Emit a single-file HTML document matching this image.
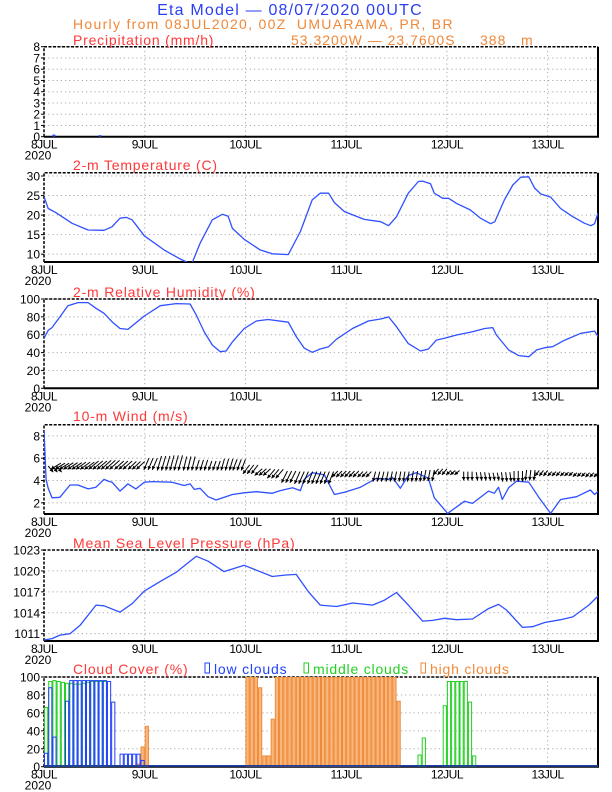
<!DOCTYPE html>
<html><head><meta charset="utf-8">
<style>
html,body{margin:0;padding:0;background:#fff;}
svg{display:block;font-family:"Liberation Sans",sans-serif;}
</style></head>
<body>
<svg id="chart" width="612" height="792" viewBox="0 0 612 792" xmlns="http://www.w3.org/2000/svg">
<text x="290" y="15" text-anchor="middle" font-size="16" fill="#2a3ff0" letter-spacing="1.2">Eta Model — 08/07/2020 00UTC</text>
<text x="73" y="29" font-size="14" fill="#f0883a" letter-spacing="1.3" xml:space="preserve" style="white-space:pre">Hourly from 08JUL2020, 00Z  UMUARAMA, PR, BR</text>
<text x="291" y="45" font-size="14" fill="#f0883a" letter-spacing="1" xml:space="preserve" style="white-space:pre">53.3200W — 23.7600S     388   m</text>
</svg>
<script>
// ---- data (hours since 08JUL2020 00Z) ----
const dayLabels = ["8JUL","9JUL","10JUL","11JUL","12JUL","13JUL"];
const tempHours = [0,1,2.9,6.7,10.5,14.3,16.2,18.1,19.6,21,23.9,28.6,32.4,34.4,35.3,37.2,40.1,42.5,43.9,44.9,47.7,51.5,54.4,58.2,61.1,63.9,65.8,67.8,69.2,71.6,76.3,80.2,82.1,84,86.8,89.2,90.2,92.1,93,95,96.4,98.3,101.6,104,106.4,107.4,109.7,111.7,113.6,115.5,116.9,118.4,120.7,123.1,126,128.8,130.3,131.2,132];
const tempVals = [24.7,21.7,20.6,17.9,16.2,16.1,17,19.2,19.4,18.8,14.7,11.1,8.8,7.8,7.8,12.8,18.8,20.2,19.7,16.6,13.8,11.1,10.1,9.9,15.8,23.9,25.6,25.6,23.2,20.9,18.9,18.3,17.3,19.6,25.6,28.6,28.7,28,25.6,24.3,24.3,23,21.3,19.2,17.8,18.3,23.9,27.7,29.7,29.8,26.9,25.4,24.6,21.7,19.6,17.9,17.3,17.8,20.5];
const rhHours = [0,1,1.9,3.8,5.7,8.1,10.5,12.4,14.3,16.2,18.1,20,23.9,27.7,31.5,34.8,36.3,38.2,40.1,42,43.4,44.9,47.7,50.6,53.4,58.2,60.1,62,63.9,65.8,67.8,69.7,73.5,77.3,80.2,82.1,84,86.8,89.7,91.6,93.5,95.4,98.3,102.1,105,106.9,107.8,110.7,113.1,115.5,117.4,119.3,121.2,124.1,127.9,131.2,132.2];
const rhVals = [56,65,68,80,92.5,96,96,89.6,84,74.6,67,66,81,92.5,94.8,94.4,82,63,48.5,41,41.8,52,67,75.4,77,74,58,45,40.3,44,46.6,55,67,75.4,77.6,80,69,50,41.8,44,54,56,59.7,63.4,67,68,59.7,43,36.6,35.4,43,45.5,46.6,54,61.6,64,56.7];
const windHours = [0,0.5,1,1.9,3.8,6.2,8.1,10.5,12.4,14.3,15.3,16.2,18.1,20,21.9,23.9,25.8,30.5,33.4,34.8,35.8,37.2,39.1,41,44.9,47.7,50.6,54.4,56.3,59.2,61.1,62,63.9,66.8,69.2,71.6,75.4,79.2,82.1,83,84.9,86.8,88.7,91.6,93,96.2,100.2,102.1,105.9,107.3,108.3,109.2,110.7,112.6,115.5,117.8,120.7,123.1,126.9,130.2,131.2,132.1];
const windSpeed = [8.5,4.1,3.3,2.45,2.5,3.6,3.6,3.25,3.4,4.1,3.95,3.85,3.05,3.7,3.25,3.85,3.9,3.85,3.55,3.7,3.2,3.3,2.55,2.25,2.75,2.9,3.0,2.85,3.1,3.35,3.1,4.1,4.7,4.5,2.75,2.95,3.4,4.2,4.1,4.3,3.3,4.45,4.7,4.2,2.45,1.05,2.15,1.95,3.05,2.85,3.4,2.3,3.35,3.95,3.85,2.55,1.05,2.3,2.55,3.15,2.75,3.05];
const arrowHours = [3,6,9,12,15,18,21,24,27,30,33,36,39,42,45,48,51,54,57,60,63,66,69,72,75,78,81,84,87,90,93,96,99,102,105,108,111,114,117,120,123,126,129,132];
const arrowTail = [5.3,5.55,5.6,5.65,5.75,5.8,5.75,5.7,6.0,6.2,6.25,6.15,5.85,5.75,5.95,5.9,5.4,5.05,5.0,4.85,4.8,4.8,4.8,4.85,4.85,4.8,4.8,4.8,4.8,4.85,4.95,5.05,4.9,4.8,4.75,4.7,4.75,4.85,4.95,4.9,4.8,4.75,4.7,4.7];
const arrowTip = [4.75,5.0,5.0,5.0,5.0,5.0,5.0,5.0,4.95,4.9,4.9,4.9,4.9,4.9,4.9,4.9,4.6,4.45,4.2,3.8,3.7,3.7,3.7,4.3,4.3,4.3,3.9,3.9,3.9,3.9,3.95,4.5,4.5,4.0,4.0,4.0,3.9,3.9,4.0,4.4,4.4,4.4,4.35,4.3];
const arrowDx = [1.2,-2.4,-2.4,-2.4,-2.4,-2.4,-2.2,-2.0,-1.2,-1.0,-1.0,-0.8,-0.8,-0.8,-0.8,-1.0,-1.6,-1.8,-1.8,-1.4,-1.3,-1.2,-1.2,-1.4,-1.4,-1.3,-0.6,-0.5,-0.4,-0.4,-0.5,-1.2,-1.2,0,0.3,0.4,0.3,0,-0.3,-1.0,-1.0,-1.0,-1.0,-1.0];
const mslpHours = [0,1.9,3.8,6.2,8.6,12.4,14.3,18.1,21,23.9,27.7,31.5,36.3,39.1,42.9,47.7,50.6,54.4,57.3,60.1,63,65.8,69.7,73.5,78.3,81.1,84,86.8,90.2,92.6,95.4,98.3,102.1,105.9,108.3,110.2,114,116.4,119.3,123.1,126,129.8,132.2];
const mslpVals = [1010.1,1010.3,1010.8,1011,1012.2,1015.1,1015,1014.1,1015.3,1017.1,1018.5,1019.8,1022.1,1021.4,1019.9,1020.8,1020.1,1019.2,1019.4,1019.5,1017,1015.1,1014.9,1015.4,1015.1,1015.8,1016.9,1015.1,1012.8,1012.9,1013.2,1013,1013.1,1014.6,1015.2,1014.4,1011.9,1012,1012.6,1013,1013.4,1015.1,1016.5];
const precipHours = [2,13];
const precipVals = [0.1,0.05];
const lowHours = [0,1,2,5,6,7,8,9,10,11,12,13,14,15,16,18,19,20,21,22,23];
const lowVals = [15,88,33,73,96,96,96,96,96,96,96,96,96,95,72,14,14,14,14,14,7];
const midHours = [0,1,2,3,4,5,6,7,8,9,10,11,12,13,14,89,90,95,96,97,98,99,100,101,102];
const midVals = [66,95,96,95,94,93,93,92,92,93,94,95,95,95,95,13,32,68,95,95,95,95,95,72,12];
const highHours = [22,23,24,48,49,50,51,52,53,54,55,56,57,58,59,60,61,62,63,64,65,66,67,68,69,70,71,72,73,74,75,76,77,78,79,80,81,82,83,84];
const highVals = [3,22,45,100,100,100,88,12,12,53,100,100,100,100,100,100,100,100,100,100,100,100,100,100,100,100,100,100,100,100,100,100,100,100,100,100,100,100,100,73];

const NS = "http://www.w3.org/2000/svg";
const svg = document.getElementById("chart");
const X0 = 44, X1 = 598, HMAX = 132;
function xs(h){ return X0 + (X1 - X0) * h / HMAX; }
function mk(tag, attrs, parent){
  const e = document.createElementNS(NS, tag);
  for (const k in attrs) e.setAttribute(k, attrs[k]);
  (parent || svg).appendChild(e);
  return e;
}
const BLUE = "#3050ff";

function panel(id, top, bot, vmin, vmax, ticks, title, titleY){
  const g = mk("g", {});
  
  
  const ys = v => bot - (v - vmin) / (vmax - vmin) * (bot - top);
  ticks.forEach(t => {
    const gl = mk("line", {x1:X0, x2:X1, y1:ys(t), y2:ys(t), stroke:"#aaa", "stroke-width":1, "stroke-dasharray":"1.2,3"}, g);
    
    
    const tl = mk("text", {x:X0-4, y:ys(t)+4.5, "text-anchor":"end", "font-size":12, fill:"#000"}, g);
    tl.textContent = String(t);
    
    
    const tk = mk("line", {x1:X0-3, x2:X0, y1:ys(t), y2:ys(t), stroke:"#000", "stroke-width":1}, g);
    
    
  });
  dayLabels.forEach((d, i) => {
    const x = xs(i * 24);
    if (i > 0) {
      const gv = mk("line", {x1:x, x2:x, y1:top, y2:bot, stroke:"#aaa", "stroke-width":1, "stroke-dasharray":"1.2,3"}, g);
      
      
    }
    const dl = mk("text", {x:x, y:bot+12, "text-anchor":"middle", "font-size":12, fill:"#000", "letter-spacing":"-0.5"}, g);
    dl.textContent = d;
    
    
  });
  const yr = mk("text", {x:X0-6, y:bot+23, "text-anchor":"middle", "font-size":12, fill:"#000"}, g);
  yr.textContent = "2020";
  
  
  const fr = mk("path", {d:`M${X0},${bot} H${X1} V${top}`, fill:"none", stroke:"#000", "stroke-width":2}, g);
  
  
  const fd = mk("path", {d:`M${X0},${bot} V${top} H${X1}`, fill:"none", stroke:"#000", "stroke-width":1.5, "stroke-dasharray":"3,1.5"}, g);
  
  
  if (title) {
    const tt = mk("text", {x:73, y:titleY, "font-size":14, fill:"#ff3838", "letter-spacing":"0.8"}, g);
    tt.textContent = title;
    
    
  }
  const cp = mk("clipPath", {id:"clip-" + id}, g);
  mk("rect", {x:X0, y:top, width:X1-X0, height:bot-top}, cp);
  const inner = mk("g", {"clip-path":`url(#clip-${id})`}, g);
  
  
  return {g: inner, ys};
}
function line(p, hours, vals, name){
  const d = hours.map((h, i) => (i ? "L" : "M") + xs(h).toFixed(1) + "," + p.ys(vals[i]).toFixed(1)).join(" ");
  const l = mk("path", {d, fill:"none", stroke:BLUE, "stroke-width":1.3, "stroke-linejoin":"round"}, p.g);
  
  
}

// Precipitation
const pp = panel("precip", 46.7, 136.7, 0, 8, [0,1,2,3,4,5,6,7,8], "Precipitation (mm/h)", 45);
precipHours.forEach((h, i) => {
  const b = mk("rect", {x:xs(h), y:pp.ys(precipVals[i]) - 1, width:3, height:136.7 - pp.ys(precipVals[i]) + 1, fill:BLUE}, pp.g);
  
  
});

// Temperature
const tp = panel("temp", 172.7, 262, 8, 30.85, [10,15,20,25,30], "2-m Temperature (C)", 170);
line(tp, tempHours, tempVals, "temperature-line");

// RH
const rp = panel("rh", 299, 388.3, 0, 100, [0,20,40,60,80,100], "2-m Relative Humidity (%)", 297);
line(rp, rhHours, rhVals, "humidity-line");

// Wind
const wp = panel("wind", 424.7, 514, 1, 9, [2,4,6,8], "10-m Wind (m/s)", 421);
line(wp, windHours, windSpeed, "wind-speed-line");
const L = 4;
arrowHours.forEach((h, i) => {
  const y1 = wp.ys(arrowTail[i]), y2 = wp.ys(arrowTip[i]);
  const ag = mk("g", {}, wp.g);
  
  
  [-2, -1, 0].forEach(off => {
    const hh = h + off;
    const x1 = xs(hh), x2 = xs(hh + arrowDx[i]);
    const ang = Math.atan2(y2 - y1, x2 - x1);
    const a1 = ang + 2.65, a2 = ang - 2.65;
    const sh = mk("line", {x1, y1, x2, y2, stroke:"#000", "stroke-width":1}, ag);
    
    
    const hd = mk("path", {d:`M${x2},${y2} L${x2 + L*Math.cos(a1)},${y2 + L*Math.sin(a1)} L${x2 + L*Math.cos(a2)},${y2 + L*Math.sin(a2)} Z`, fill:"#000"}, ag);
    
    
  });
});

// MSLP
const mp = panel("mslp", 550, 641, 1009.95, 1023, [1011,1014,1017,1020,1023], "Mean Sea Level Pressure (hPa)", 548);
line(mp, mslpHours, mslpVals, "pressure-line");

// Cloud cover
const cc = panel("cloud", 677, 766.7, 0, 100, [0,20,40,60,80,100], "Cloud Cover (%)", 674);
function bars(hours, vals, stroke, fill, name){
  hours.forEach((h, i) => {
    const x = xs(h) + 0.5, w = xs(h + 1) - xs(h) - 1;
    const y = cc.ys(vals[i]);
    const r = mk("rect", {x, y, width:w, height:766.7 - y, fill, stroke, "stroke-width":1}, cc.g);
    
    
  });
}
bars(highHours, highVals, "#f08a3a", "#f8b87c", "high-cloud-bar");
bars(midHours, midVals, "#22d022", "none", "middle-cloud-bar");
bars(lowHours, lowVals, "#2040ff", "none", "low-cloud-bar");
const base = mk("line", {x1:X0, x2:X1, y1:766, y2:766, stroke:"#2040a0", "stroke-width":2}, cc.g);



const legend = [["low clouds", "#2040ff", 205], ["middle clouds", "#22d022", 304], ["high clouds", "#f08a3a", 421]];
legend.forEach(([lab, col, x]) => {
  const lg = mk("g", {});
  
  
  mk("rect", {x:x, y:663, width:4.5, height:10, fill:"none", stroke:col, "stroke-width":1}, lg);
  const t = mk("text", {x:x+9, y:674, "font-size":14, fill:col, "letter-spacing":"0.8"}, lg);
  t.textContent = lab;
});
</script>
</body></html>
